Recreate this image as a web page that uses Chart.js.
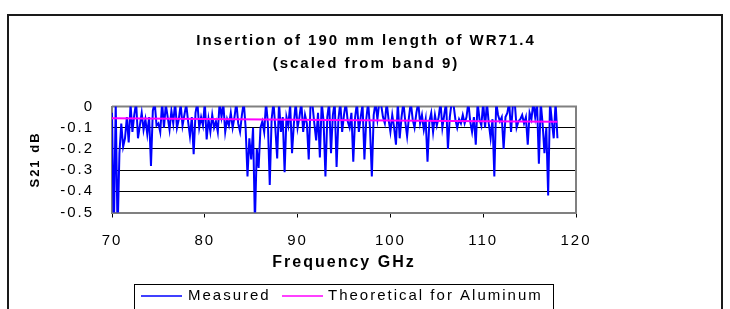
<!DOCTYPE html>
<html><head><meta charset="utf-8">
<script src="https://cdn.jsdelivr.net/npm/chart.js@4.4.0/dist/chart.umd.min.js"></script>
<style>html,body{margin:0;padding:0;background:#fff;}#wrap{position:relative;width:730px;height:309px;}canvas{display:block;}</style>
</head><body><div id="wrap"><canvas id="c" width="730" height="309"></canvas></div>
<script>
const titleLines = ["Insertion of 190 mm length of WR71.4", "(scaled from band 9)"];
const xAxisTitle = "Frequency GHz";
const yAxisTitle = "S21 dB";
const seriesNames = ["Measured", "Theoretical for Aluminum"];
const xTickValues = [70, 80, 90, 100, 110, 120];
const yTickLabels = ["0", "-0.1", "-0.2", "-0.3", "-0.4", "-0.5"];
const sweepStartGHz = 70;
const sweepStepGHz = 0.2;
const measuredS21 = [
  -0.03,-0.6,0.02,-0.6,-0.22,-0.08,-0.19,-0.15,-0.05,-0.17,
  0.01,-0.12,-0.04,0.02,-0.15,-0.09,-0.03,-0.11,-0.06,-0.13,
  -0.05,-0.28,-0.02,0.02,-0.09,-0.08,-0.12,0.02,-0.1,0.01,
  -0.05,-0.11,-0.02,-0.08,0.02,-0.1,-0.06,0.01,-0.09,-0.04,
  0.01,-0.07,-0.14,-0.05,-0.225,-0.03,0.02,-0.1,-0.05,-0.09,
  0.02,-0.155,-0.06,-0.12,-0.04,-0.1,-0.07,-0.12,0.02,-0.05,
  0.01,-0.12,-0.06,-0.09,-0.03,-0.1,-0.05,0.02,-0.08,-0.12,
  -0.04,0.02,-0.1,-0.33,-0.15,-0.25,-0.1,-0.55,-0.2,-0.29,
  -0.1,-0.07,-0.12,0.02,-0.08,-0.37,-0.06,0.02,-0.1,-0.245,
  0.02,-0.12,-0.05,-0.31,-0.05,-0.09,0.01,-0.22,-0.08,0.02,
  -0.1,-0.05,0.02,-0.12,-0.04,-0.08,-0.25,0.02,0.01,-0.08,
  -0.16,-0.03,-0.24,0.02,-0.07,-0.33,-0.05,0.02,-0.22,-0.04,
  0.02,-0.285,-0.06,0.02,-0.12,-0.04,0.02,-0.07,-0.1,-0.03,
  -0.26,-0.05,0.02,-0.12,-0.05,0.01,-0.25,-0.06,0.02,-0.1,
  -0.33,-0.04,0.02,-0.06,0.02,0.01,-0.05,-0.08,0.02,-0.06,
  -0.12,-0.04,-0.1,-0.18,0.02,-0.15,-0.05,0.02,-0.07,-0.14,
  -0.05,0.02,-0.06,-0.1,-0.03,0.02,-0.08,-0.04,-0.11,-0.06,
  -0.26,-0.07,-0.03,-0.12,-0.04,-0.09,-0.05,0.02,-0.1,-0.04,
  0.02,-0.2,-0.05,0.02,0.01,-0.06,-0.1,-0.06,-0.08,-0.04,
  -0.08,-0.05,0.02,-0.07,-0.12,-0.05,-0.18,0.02,-0.06,-0.09,
  0.02,-0.1,0.02,-0.08,-0.15,-0.06,-0.33,0.02,-0.04,-0.07,
  -0.05,-0.2,-0.05,-0.03,0.02,-0.12,0.01,0.02,-0.1,-0.07,
  -0.06,-0.04,-0.08,-0.05,-0.18,-0.03,-0.06,0.02,-0.05,0.02,
  -0.27,0.02,-0.08,-0.22,-0.1,-0.42,0.02,-0.07,-0.15,0.02,
  -0.15
];
const theoryFreqGHz = [70, 80, 90, 100, 110, 118];
const theoryS21 = [-0.056, -0.059, -0.063, -0.066, -0.069, -0.072];

const measuredPoints = measuredS21.map((v, i) => ({x: +(sweepStartGHz + i * sweepStepGHz).toFixed(2), y: v}));
const theoryPoints = theoryFreqGHz.map((f, i) => ({x: f, y: theoryS21[i]}));

const FONT = "'Liberation Sans', Arial, sans-serif";
const SPACING = '2px';

const spacingPlugin = {
  id: 'spacing',
  beforeUpdate(chart) { chart.ctx.letterSpacing = SPACING; },
  beforeDraw(chart) { chart.ctx.letterSpacing = SPACING; }
};

const decorPlugin = {
  id: 'decor',
  beforeDatasetsDraw(chart) {
    const {ctx, chartArea: a} = chart;
    ctx.save();
    ctx.strokeStyle = '#808080';
    ctx.lineWidth = 2;
    ctx.beginPath();
    ctx.moveTo(a.left, a.top); ctx.lineTo(a.right, a.top); ctx.lineTo(a.right, a.bottom);
    ctx.stroke();
    ctx.restore();
  },
  afterDraw(chart) {
    const ctx = chart.ctx;
    ctx.save();
    ctx.letterSpacing = SPACING;
    ctx.strokeStyle = '#1a1a1a';
    ctx.lineWidth = 2;
    ctx.strokeRect(8, 15, 714, 300);
    ctx.fillStyle = '#000';
    ctx.font = "bold 15px " + FONT;
    ctx.textAlign = 'center';
    ctx.textBaseline = 'alphabetic';
    ctx.fillText(titleLines[0], 366, 45);
    ctx.fillText(titleLines[1], 366, 68);
    const lx = 134, lr = 553, ly = 284;
    ctx.strokeStyle = '#000';
    ctx.lineWidth = 1;
    ctx.strokeRect(lx + 0.5, ly + 0.5, lr - lx, 40);
    const ty = 296;
    ctx.font = "15px " + FONT;
    ctx.textAlign = 'left';
    ctx.textBaseline = 'middle';
    const items = [
      {name: seriesNames[0], color: chart.data.datasets[0].borderColor, x0: 141, x1: 182, tx: 188},
      {name: seriesNames[1], color: chart.data.datasets[1].borderColor, x0: 282, x1: 323, tx: 328}
    ];
    items.forEach(it => {
      ctx.strokeStyle = it.color;
      ctx.lineWidth = 1.5;
      ctx.beginPath(); ctx.moveTo(it.x0, ty); ctx.lineTo(it.x1, ty); ctx.stroke();
      ctx.fillStyle = '#000';
      ctx.fillText(it.name, it.tx, ty);
    });
    ctx.restore();
  }
};

new Chart(document.getElementById('c'), {
  type: 'line',
  data: {
    datasets: [
      {label: seriesNames[0], data: measuredPoints, borderColor: '#0000ff', borderWidth: 2, pointRadius: 0, tension: 0, order: 2},
      {label: seriesNames[1], data: theoryPoints, borderColor: '#ff00ff', borderWidth: 2, pointRadius: 0, tension: 0, order: 1}
    ]
  },
  options: {
    responsive: false,
    animation: false,
    devicePixelRatio: 1,
    events: [],
    layout: {padding: {left: 0, top: 106.5, right: 154, bottom: 0}},
    plugins: {legend: {display: false}, title: {display: false}, tooltip: {enabled: false}},
    scales: {
      x: {
        type: 'linear', min: 70, max: 120,
        afterBuildTicks(scale) { scale.ticks = xTickValues.map(v => ({value: v})); },
        afterFit(scale) { scale.height = 309 - 212.5; },
        grid: {drawOnChartArea: false, drawTicks: true, tickLength: 5, color: '#000', lineWidth: 1},
        border: {display: true, color: '#808080', width: 2},
        ticks: {color: '#000', font: {family: FONT, size: 15}, padding: 14, maxRotation: 0, autoSkip: false},
        title: {display: true, text: xAxisTitle, color: '#000', font: {family: FONT, size: 16, weight: 'bold'}, padding: {top: 0, bottom: 37}}
      },
      y: {
        type: 'linear', min: -0.5, max: 0,
        afterBuildTicks(scale) { scale.ticks = yTickLabels.map(t => ({value: parseFloat(t)})); },
        afterFit(scale) { scale.width = 112; },
        grid: {drawTicks: false, color: '#000', lineWidth: 1},
        border: {display: true, color: '#808080', width: 2},
        ticks: {color: '#000', font: {family: FONT, size: 15}, padding: 18,
          callback: (v) => { const i = yTickLabels.findIndex(t => Math.abs(parseFloat(t) - v) < 1e-9); return i >= 0 ? yTickLabels[i] : ''; }},
        title: {display: true, text: yAxisTitle, color: '#000', font: {family: FONT, size: 13, weight: 'bold'}, padding: {top: 28, bottom: 0}}
      }
    }
  },
  plugins: [spacingPlugin, decorPlugin]
});
</script></body></html>
